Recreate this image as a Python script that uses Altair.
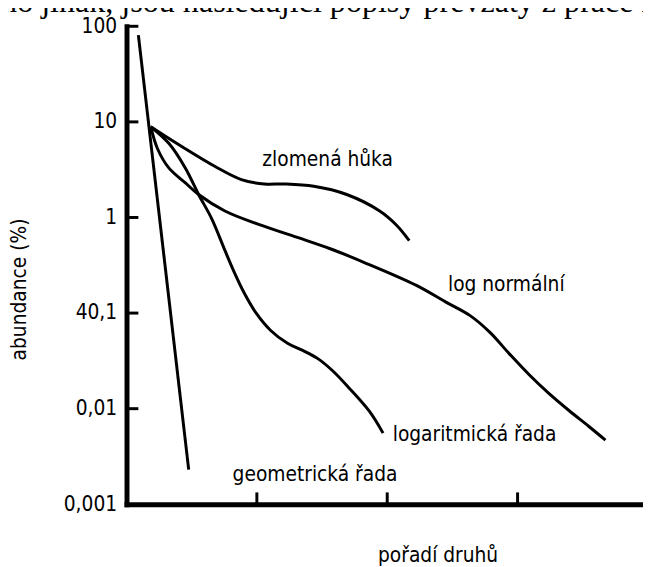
import altair as alt
import pandas as pd

# ---- data (x = rank units, y = abundance %) ----
geo_x = [0.091, 0.477]
geo_y = [80.7, 0.0023]

stick_x = [0.186, 0.427, 0.680, 0.881, 1.058, 1.210, 1.437, 1.689, 1.942, 2.068, 2.169]
stick_y = [8.9, 5.49, 3.41, 2.49, 2.24, 2.24, 2.12, 1.74, 1.17, 0.84, 0.573]

logser_x = [0.186, 0.326, 0.452, 0.553, 0.654, 0.755, 0.826, 0.902, 0.992, 1.106,
            1.235, 1.348, 1.462, 1.583, 1.712, 1.864, 1.968]
logser_y = [8.9, 5.94, 3.28, 1.74, 0.968, 0.452, 0.268, 0.163, 0.101, 0.0658,
            0.0483, 0.0409, 0.0338, 0.0248, 0.0162, 0.00935, 0.00555]

lognorm_x = [0.186, 0.237, 0.326, 0.452, 0.553, 0.755, 1.008, 1.311, 1.563, 1.816,
             2.220, 2.447, 2.636, 2.788, 2.939, 3.091, 3.242, 3.394, 3.545, 3.674]
lognorm_y = [8.9, 5.27, 3.28, 2.30, 1.74, 1.17, 0.853, 0.619, 0.471, 0.342,
             0.196, 0.131, 0.094, 0.0628, 0.0372, 0.0225, 0.01436, 0.00957, 0.00655, 0.00469]

label_text = ["zlomená hůka", "log normální", "logaritmická řada", "geometrická řada"]
label_x = [1.042, 2.466, 2.042, 0.814]
label_y = [3.97, 0.198, 0.0053, 0.0020]

y_ticks = [100, 10, 1, 0.1, 0.01, 0.001]
y_tick_labels = ["100", "10", "1", "40,1", "0,01", "0,001"]
x_ticks = [1, 2, 3]

header = "ho jinak, jsou následující popisy převzaty z práce r"
x_title = "pořadí druhů"
y_title = "abundance (%)"

# ---- build tables ----
rows = []
for name, xs, ys in [("geometrická řada", geo_x, geo_y),
                     ("zlomená hůka", stick_x, stick_y),
                     ("logaritmická řada", logser_x, logser_y),
                     ("log normální", lognorm_x, lognorm_y)]:
    for i, (a, b) in enumerate(zip(xs, ys)):
        rows.append({"series": name, "x": a, "y": b, "order": i})
lines_df = pd.DataFrame(rows)
labels_df = pd.DataFrame({"label": label_text, "x": label_x, "y": label_y})
yt_df = pd.DataFrame({"y": y_ticks[:-1]})
xt_df = pd.DataFrame({"x": x_ticks})
head_df = pd.DataFrame({"t": [header]})

W, H = 523, 484
SANS = "Liberation Sans Narrow, Arial Narrow, DejaVu Sans Condensed, Liberation Sans, sans-serif"
FS = 21

label_expr = f"'{y_tick_labels[-1]}'"
for v, lab in reversed(list(zip(y_ticks[:-1], y_tick_labels[:-1]))):
    label_expr = f"datum.value >= {v * 0.5} ? '{lab}' : " + label_expr

x_scale = alt.Scale(domain=[0, W / 132], nice=False, zero=False)
y_scale = alt.Scale(type="log", domain=[0.001, 100], nice=False)

x_axis = alt.Axis(values=x_ticks, labels=False, ticks=False, grid=False,
                  title=x_title, titleFont=SANS, titleFontSize=FS, titleFontWeight="normal",
                  titleColor="black", titleX=315, titleY=58, titleAlign="center",
                  titleBaseline="alphabetic")
y_axis = alt.Axis(values=y_ticks, labelExpr=label_expr, ticks=False, tickSize=0, grid=False,
                  labelFont=SANS, labelFontSize=FS, labelColor="black", labelPadding=10,
                  labelBaseline="middle", title=y_title, titleFont=SANS, titleFontSize=FS,
                  titleFontWeight="normal", titleColor="black", titleAngle=270,
                  titleX=-108, titleY=266, titleAlign="center", titleBaseline="middle")

X = alt.X("x:Q", scale=x_scale, axis=x_axis)
Y = alt.Y("y:Q", scale=y_scale, axis=y_axis)

lines = alt.Chart(lines_df).mark_line(color="black", strokeWidth=3,
                                      interpolate="catmull-rom").encode(
    x=X, y=Y, detail="series:N", order="order:Q")

labels = alt.Chart(labels_df).mark_text(align="left", baseline="middle", font=SANS,
                                        fontSize=FS, color="black").encode(
    x=X, y=Y, text="label:N")

yticks = alt.Chart(yt_df).mark_rule(color="black", strokeWidth=3).encode(
    y=Y, x=alt.value(0), x2=alt.value(12))

xticks = alt.Chart(xt_df).mark_rule(color="black", strokeWidth=3).encode(
    x=X, y=alt.value(H), y2=alt.value(H - 12))

head = alt.Chart(head_df).mark_text(align="left", baseline="alphabetic",
                                    font="Liberation Serif, Times New Roman, serif",
                                    fontSize=32.5, color="black").encode(
    text="t:N", x=alt.value(-127), y=alt.value(-14))

chart = alt.layer(lines, labels, yticks, xticks, head).properties(
    width=W, height=H,
    padding={"left": 120, "top": 15, "right": 0, "bottom": 60},
    autosize=alt.AutoSizeParams(type="none"),
).configure_view(strokeWidth=0).configure_axis(
    domainColor="black", domainWidth=5, domainCap="square")

chart.save("out.html", embed_options={"renderer": "svg", "actions": False})
